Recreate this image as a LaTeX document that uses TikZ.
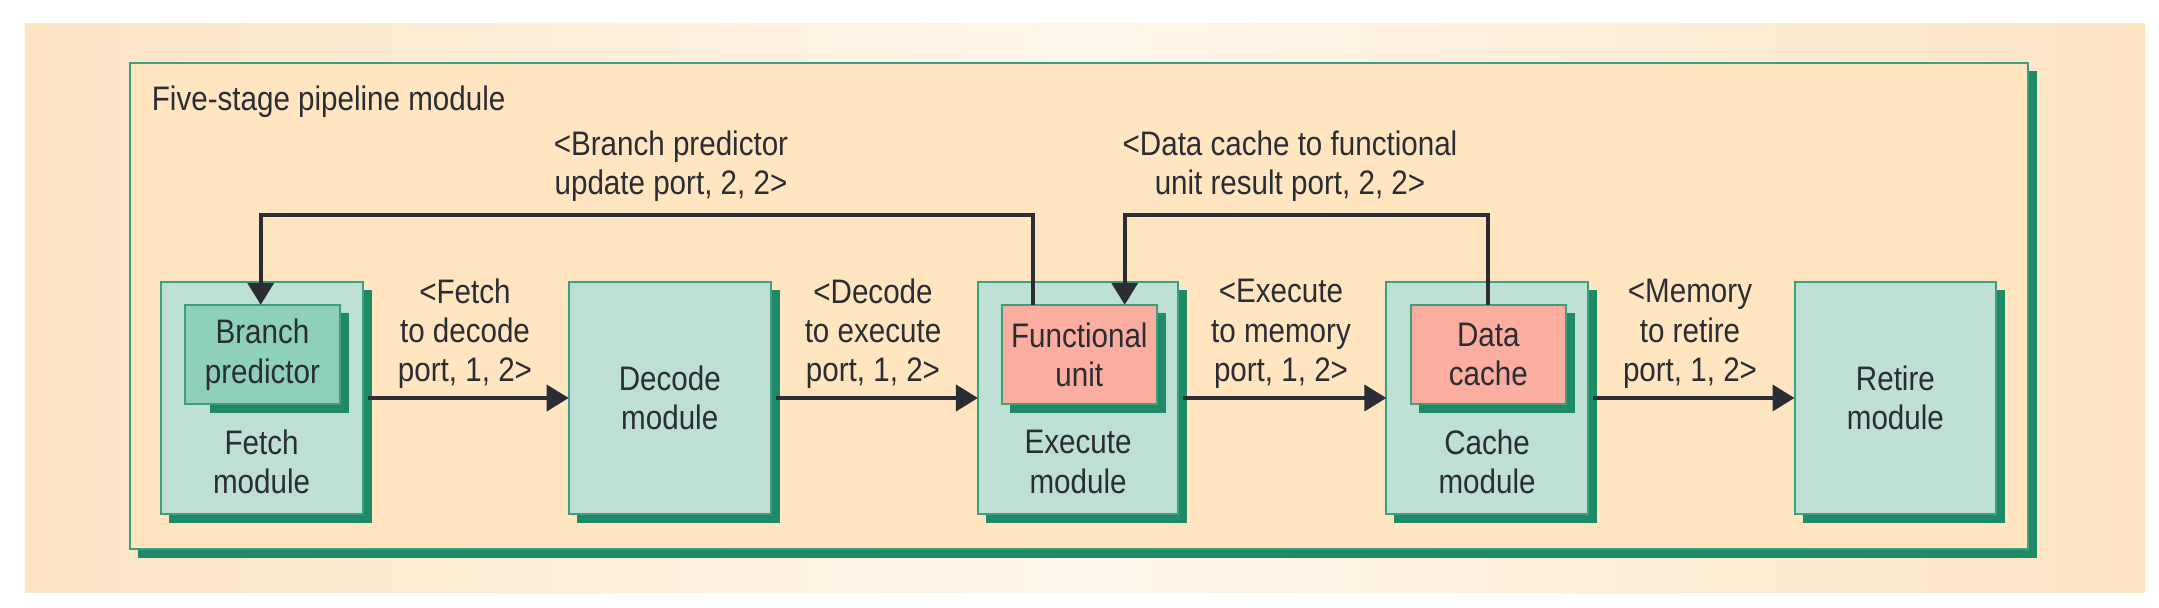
\documentclass[tikz,border=0pt]{standalone}
\usepackage{fontspec}
\setmainfont{Liberation Sans}[FakeStretch=0.87]
\usetikzlibrary{arrows.meta}
\definecolor{bgedge}{HTML}{FDE5C4}
\definecolor{bgmid}{HTML}{FEF6EB}
\definecolor{panel}{HTML}{FFE6C0}
\definecolor{modfill}{HTML}{BDDFD4}
\definecolor{bpfill}{HTML}{8FD0BA}
\definecolor{redfill}{HTML}{FBAEA0}
\definecolor{shadowc}{HTML}{1F8A68}
\definecolor{borderc}{HTML}{3E9E80}
\definecolor{ink}{HTML}{2B2D35}
% name, x1, y1, x2, y2, fill, left offset of shadow
\newcommand\mkbox[7]{%
  \fill[shadowc] (#2+#7,#3+8) rectangle (#4+9,#5+9);
  \node[box, fill=#6, minimum width={(#4-#2)*0.5pt}, minimum height={(#5-#3)*0.5pt}] (#1) at (#2,#3) {};
}
\begin{document}
\begin{tikzpicture}[x=0.5pt,y=-0.5pt,
  box/.style={draw=borderc, line width=1pt, anchor=north west, inner sep=0pt, outer sep=0pt},
  txt/.style={text=ink, font=\fontsize{17}{19.6}\selectfont, align=center, inner sep=0pt},
  arr/.style={draw=ink, line width=2pt, -{Triangle[length=11pt,width=13pt]}},
]
\useasboundingbox (0,0) rectangle (2159,608);
\shade[left color=bgedge, right color=bgedge, middle color=bgmid, shading=axis] (24.8,23.3) rectangle (2145,592.5);

\mkbox{outer}{130}{62.8}{2028}{548.7}{panel}{8}
\node[txt, anchor=base west] (title) at (151.5,110.5) {Five-stage pipeline module};

\mkbox{fetch}{160.7}{282}{362.5}{514}{modfill}{8}
\mkbox{decode}{568.7}{282}{770.8}{514}{modfill}{8}
\mkbox{execute}{977.9}{282}{1178.3}{514}{modfill}{8}
\mkbox{cache}{1386.4}{282}{1587.8}{514}{modfill}{8}
\mkbox{retire}{1794.5}{282}{1996.3}{514}{modfill}{8}
\mkbox{bp}{184.8}{304.8}{340}{404.5}{bpfill}{25}
\mkbox{fu}{1001.8}{304.8}{1156.8}{404.5}{redfill}{8}
\mkbox{dc}{1411.2}{304.8}{1565.5}{404.5}{redfill}{8}

\node[txt] (bptxt) at (bp.center) {Branch\\predictor};
\node[txt] (futxt) at (fu.center) {Functional\\unit};
\node[txt] (dctxt) at (dc.center) {Data\\cache};
\node[txt] (fetchtxt) at (261.6,462) {Fetch\\module};
\node[txt] (exectxt) at (1078.1,462) {Execute\\module};
\node[txt] (cachetxt) at (1487.1,462) {Cache\\module};
\node[txt] (decodetxt) at (decode.center) {Decode\\module};
\node[txt] (retiretxt) at (retire.center) {Retire\\module};

\node[txt] (l1) at (465,334) {<Fetch\\to decode\\port, 1, 2>};
\node[txt] (l2) at (873,334) {<Decode\\to execute\\port, 1, 2>};
\node[txt] (l3) at (1281,334) {<Execute\\to memory\\port, 1, 2>};
\node[txt] (l4) at (1690,334) {<Memory\\to retire\\port, 1, 2>};
\node[txt] (l5) at (671,166.6) {<Branch predictor\\update port, 2, 2>};
\node[txt] (l6) at (1290,166.6) {<Data cache to functional\\unit result port, 2, 2>};

\draw[arr] ([xshift=2.5pt]fetch.east) -- (decode.west);
\draw[arr] ([xshift=2.5pt]decode.east) -- (execute.west);
\draw[arr] ([xshift=2.5pt]execute.east) -- (cache.west);
\draw[arr] ([xshift=2.5pt]cache.east) -- (retire.west);

\coordinate (topline) at (0,214.8);
\coordinate (fustart) at ([xshift=15.8pt]fu.north west);
\coordinate (fuend) at ([xshift=61.45pt]fu.north west);
\coordinate (bpend) at ([xshift=-0.85pt]bp.north);
\draw[arr] (fustart) -- (fustart |- topline) -| (bpend);
\draw[arr] (dc.north) -- (dc.north |- topline) -| (fuend);
\end{tikzpicture}
\end{document}
